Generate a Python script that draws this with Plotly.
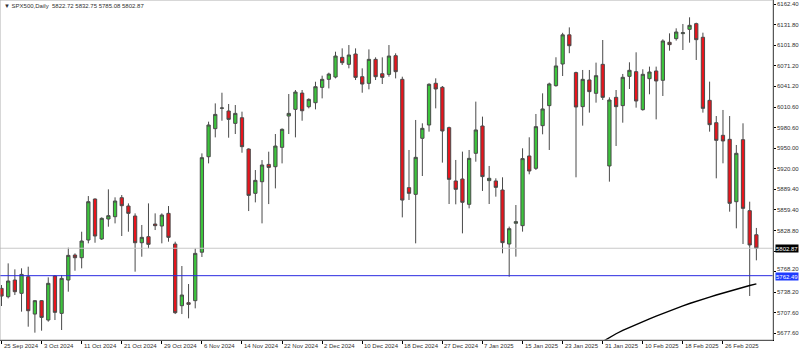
import plotly.graph_objects as go

# ---------------- data ----------------
tick_labels = ["25 Sep 2024", "3 Oct 2024", "11 Oct 2024", "21 Oct 2024", "29 Oct 2024",
               "6 Nov 2024", "14 Nov 2024", "22 Nov 2024", "2 Dec 2024", "10 Dec 2024",
               "18 Dec 2024", "27 Dec 2024", "7 Jan 2025", "15 Jan 2025", "23 Jan 2025",
               "31 Jan 2025", "10 Feb 2025", "18 Feb 2025", "26 Feb 2025"]
tick_bars = [0, 6, 12, 18, 24, 30, 36, 42, 48, 54, 60, 66, 72, 78, 84, 90, 96, 102, 108]

opens = [5743.8, 5731.5, 5756.1, 5736.5, 5761.0, 5706.0, 5725.7, 5697.2, 5762.0, 5707.0,
         5756.1, 5792.9, 5788.9, 5815.0, 5875.3, 5816.5, 5845.9, 5849.3, 5877.3, 5865.0,
         5850.3, 5811.0, 5819.9, 5838.5, 5835.6, 5854.2, 5809.1, 5718.3, 5722.7, 5725.7,
         5797.0, 5937.6, 5978.9, 6009.0, 6004.9, 5986.7, 5995.0, 5948.9, 5883.7, 5900.8,
         5926.3, 5922.9, 5951.4, 5997.5, 6007.3, 6031.3, 6011.2, 6017.1, 6039.7, 6051.5,
         6054.9, 6083.9, 6073.6, 6088.8, 6055.4, 6045.6, 6080.9, 6059.8, 6058.8, 6086.3,
         6051.5, 5892.1, 5882.2, 5964.7, 5984.3, 6045.7, 6039.8, 5980.4, 5901.9, 5904.8,
         5867.5, 5942.6, 5982.8, 5902.4, 5901.9, 5888.6, 5809.1, 5839.6, 5836.1, 5938.7,
         5920.5, 5983.3, 6012.8, 6042.2, 6074.1, 6117.0, 6061.4, 6011.3, 6050.6, 6030.9,
         6073.6, 5924.0, 6025.0, 6012.8, 6055.9, 6062.8, 6006.9, 6052.5, 6063.8, 6050.1,
         6106.0, 6111.4, 6118.8, 6125.1, 6133.5, 6113.4, 6020.6, 5987.7, 5969.1, 5963.2,
         5871.4, 5962.7, 5858.2, 5822.72]
highs = [5748.7, 5780.6, 5771.8, 5773.3, 5775.7, 5726.6, 5726.6, 5760.0, 5763.4, 5763.4,
         5803.7, 5795.3, 5827.2, 5879.7, 5876.3, 5848.3, 5889.6, 5877.8, 5881.2, 5868.9,
         5854.2, 5837.1, 5868.9, 5854.2, 5854.2, 5865.0, 5812.5, 5776.7, 5750.2, 5802.7,
         5942.5, 5989.2, 6016.1, 6031.8, 6015.2, 6013.7, 6003.9, 5949.9, 5918.0, 5932.7,
         5945.0, 5971.0, 5979.3, 6029.9, 6035.8, 6035.8, 6023.5, 6048.0, 6056.9, 6061.3,
         6092.2, 6097.1, 6102.0, 6097.1, 6067.7, 6095.6, 6083.9, 6083.9, 6102.0, 6089.8,
         6055.4, 5947.5, 5991.7, 5986.8, 6045.7, 6053.0, 6041.7, 5981.9, 5932.8, 5945.1,
         5947.5, 6018.7, 5996.6, 5924.0, 5905.8, 5907.3, 5834.7, 5866.5, 5950.0, 5966.2,
         6000.5, 6030.9, 6046.6, 6084.0, 6120.0, 6128.0, 6062.8, 6065.3, 6065.3, 6076.1,
         6109.4, 6025.0, 6035.8, 6059.4, 6076.6, 6091.3, 6066.3, 6070.2, 6070.2, 6110.4,
         6119.2, 6126.6, 6133.0, 6142.8, 6134.9, 6120.2, 6048.1, 5997.5, 6006.4, 5997.5,
         5954.9, 5986.8, 5871.4, 5832.75]
lows = [5717.8, 5729.1, 5734.0, 5709.5, 5687.4, 5678.6, 5681.5, 5694.8, 5697.2, 5682.5,
        5738.9, 5769.8, 5773.3, 5810.1, 5811.0, 5815.0, 5834.6, 5839.5, 5820.9, 5827.2,
        5768.4, 5790.4, 5802.7, 5829.7, 5810.1, 5812.5, 5706.0, 5706.0, 5699.7, 5714.4,
        5790.0, 5927.8, 5966.1, 5990.6, 5965.6, 5971.0, 5943.5, 5857.6, 5870.4, 5839.5,
        5867.9, 5891.0, 5927.8, 5971.0, 5966.1, 5990.6, 6008.8, 6007.3, 6023.5, 6038.2,
        6052.9, 6072.6, 6067.7, 6050.5, 6031.8, 6036.8, 6050.5, 6044.6, 6055.4, 6052.9,
        5848.3, 5873.9, 5810.1, 5909.2, 5974.5, 6008.8, 5928.9, 5868.0, 5867.5, 5824.8,
        5861.6, 5930.3, 5887.2, 5868.0, 5878.8, 5795.4, 5761.0, 5790.5, 5827.3, 5911.7,
        5918.1, 5970.6, 5947.5, 6040.7, 6056.4, 6090.0, 5907.3, 5983.3, 6002.5, 6017.2,
        6021.1, 5900.9, 5953.4, 5987.7, 6037.3, 6009.8, 6005.4, 6029.5, 5992.6, 6027.0,
        6093.7, 6108.5, 6094.7, 6105.5, 6080.0, 6002.5, 5974.5, 5905.8, 5927.9, 5856.7,
        5832.2, 5809.1, 5732.6, 5785.08]
closes = [5732.5, 5754.6, 5738.9, 5764.4, 5710.9, 5725.7, 5701.1, 5751.2, 5708.5, 5758.5,
          5792.4, 5788.9, 5813.5, 5871.4, 5820.9, 5846.9, 5850.8, 5872.4, 5865.5, 5854.2,
          5811.0, 5818.9, 5808.6, 5836.1, 5851.8, 5818.9, 5708.0, 5734.0, 5720.3, 5795.3,
          5936.2, 5984.3, 5999.9, 6009.3, 5992.6, 6001.4, 5952.4, 5880.7, 5902.8, 5925.4,
          5921.9, 5953.3, 5977.9, 6001.4, 6032.8, 6005.3, 6022.0, 6040.7, 6051.5, 6059.3,
          6085.8, 6076.0, 6087.3, 6054.4, 6044.6, 6080.9, 6055.4, 6054.4, 6085.8, 6062.8,
          5873.8, 5883.7, 5936.7, 5979.4, 6044.2, 6037.3, 5975.5, 5904.3, 5889.6, 5870.5,
          5935.2, 5977.0, 5908.3, 5905.8, 5892.5, 5811.1, 5831.7, 5842.0, 5934.8, 5916.6,
          5981.9, 6007.9, 6044.7, 6071.2, 6117.0, 6101.0, 6010.8, 6051.5, 6033.4, 6056.9,
          6025.0, 6021.1, 6011.3, 6054.5, 6064.8, 6019.6, 6058.9, 6062.3, 6049.1, 6108.0,
          6102.6, 6121.2, 6120.2, 6131.0, 6109.9, 6008.8, 5984.8, 5961.7, 5960.8, 5869.0,
          5942.6, 5861.6, 5807.7, 5802.87]

ma_start = 88
ma_values = [5654, 5660, 5666, 5672, 5677, 5682, 5686.5, 5691, 5695, 5699, 5703, 5707,
             5711, 5714.5, 5718, 5721.5, 5725, 5728, 5731, 5734, 5737, 5740, 5743,
             5745.5, 5748, 5750.5]

price_ticks = [6162.40, 6131.80, 6101.80, 6071.20, 6041.20, 6010.60, 5980.60, 5950.00,
               5920.00, 5889.40, 5859.40, 5828.80, 5798.80, 5768.20, 5738.20, 5707.60,
               5677.60]
bid_price = 5802.87
level_price = 5762.49
title_text = "SPX500,Daily  5822.72 5832.75 5785.08 5802.87"

# ---------------- figure ----------------
FONT = "Liberation Sans, Arial, sans-serif"
bars = list(range(len(opens)))

fig = go.Figure()
fig.add_trace(go.Candlestick(
    x=bars, open=opens, high=highs, low=lows, close=closes,
    increasing=dict(fillcolor="#3cc43c", line=dict(color="#4a4a4a", width=1)),
    decreasing=dict(fillcolor="#e8141c", line=dict(color="#4a4a4a", width=1)),
    whiskerwidth=0, showlegend=False, hoverinfo="skip"))

fig.add_trace(go.Scatter(
    x=list(range(ma_start, ma_start + len(ma_values))), y=ma_values,
    mode="lines", line=dict(color="#000000", width=1.4), showlegend=False,
    hoverinfo="skip"))

# horizontal lines
fig.add_shape(type="line", xref="paper", x0=0, x1=1, yref="y", y0=bid_price, y1=bid_price,
              line=dict(color="#c8c8c8", width=1))
fig.add_shape(type="line", xref="paper", x0=0, x1=1, yref="y", y0=level_price, y1=level_price,
              line=dict(color="#2a2ae0", width=1))
# frame
fig.add_shape(type="rect", xref="paper", yref="paper", x0=0, x1=1, y0=0, y1=1,
              line=dict(color="#b0b0b0", width=1))

annotations = []
for b, t in zip(tick_bars, tick_labels):
    annotations.append(dict(x=b, xref="x", y=-5.5 / 340, yref="paper", text=t,
                            showarrow=False, xanchor="left", yanchor="middle", xshift=0,
                            font=dict(family=FONT, size=6, color="#303030")))

# price-axis labels drawn as text next to the axis ticks
for v in price_ticks:
    if abs(v - bid_price) < 6:      # hidden behind the current-price box
        continue
    shift = 0
    if abs(v - level_price) < 8:    # sits just above the level box
        shift = 3
    annotations.append(dict(x=1, xref="paper", y=v, yref="y", text=f"{v:.2f}",
                            showarrow=False, xanchor="left", yanchor="middle",
                            xshift=3, yshift=shift, borderpad=0,
                            font=dict(family=FONT, size=6, color="#303030")))

annotations.append(dict(x=1, xref="paper", y=bid_price, yref="y", text=f"{bid_price:.2f}",
                        showarrow=False, xanchor="left", yanchor="middle", xshift=2,
                        bgcolor="#000000", borderpad=0, height=7,
                        font=dict(family=FONT, size=6, color="#ffffff")))
annotations.append(dict(x=1, xref="paper", y=level_price, yref="y", text=f"{level_price:.2f}",
                        showarrow=False, xanchor="left", yanchor="middle", xshift=2, yshift=-1,
                        bgcolor="#1f3bff", borderpad=0, height=7,
                        font=dict(family=FONT, size=6, color="#ffffff")))
annotations.append(dict(x=0, xref="paper", y=1, yref="paper", text="▼ " + title_text,
                        showarrow=False, xanchor="left", yanchor="top", xshift=2, yshift=-1,
                        font=dict(family=FONT, size=6, color="#303030")))

fig.update_layout(
    width=800, height=351,
    margin=dict(l=0, r=27, t=0, b=11, autoexpand=False),
    paper_bgcolor="#ffffff", plot_bgcolor="#ffffff",
    annotations=annotations,
    xaxis=dict(range=[-0.2246, 115.49], showgrid=False, zeroline=False,
               rangeslider=dict(visible=False), showticklabels=False,
               tickmode="array", tickvals=tick_bars, ticks="outside", ticklen=3,
               tickcolor="#000000", showline=True, linecolor="#000000", linewidth=1),
    yaxis=dict(range=[5667.8, 6168.3], side="right", showgrid=False, zeroline=False,
               tickmode="array", tickvals=price_ticks, showticklabels=False,
               ticks="outside", ticklen=2, tickcolor="#000000",
               showline=True, linecolor="#000000", linewidth=1),
)

fig.write_html("out.html")
